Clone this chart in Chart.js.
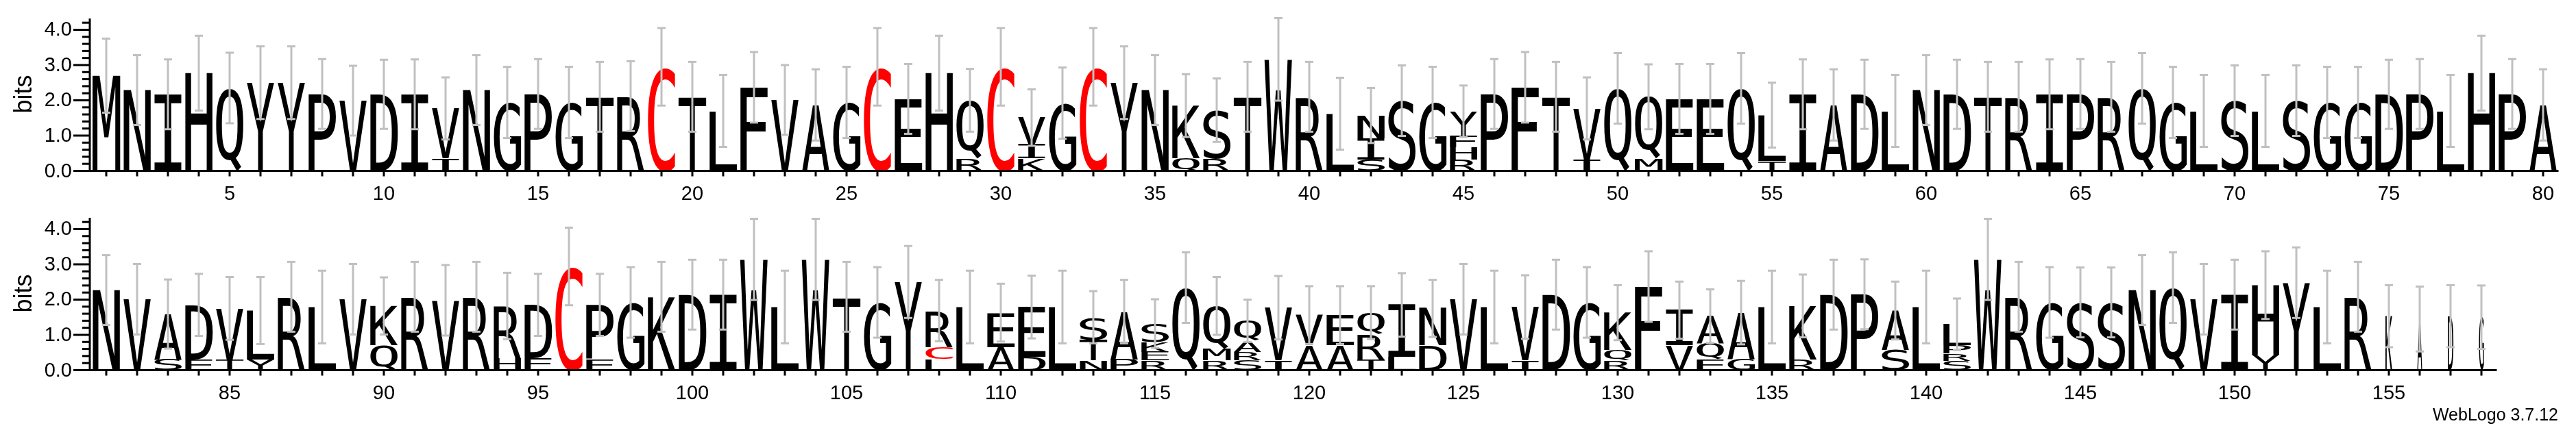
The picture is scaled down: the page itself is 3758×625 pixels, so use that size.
<!DOCTYPE html>
<html>
<head>
<meta charset="utf-8">
<script src="https://cdn.jsdelivr.net/npm/chart.js@4.4.1/dist/chart.umd.min.js"></script>
<style>
  html, body { margin: 0; padding: 0; background: #fff; }
  body { width: 3758px; height: 625px; position: relative; overflow: hidden; }
  canvas { position: absolute; left: 0; }
</style>
</head>
<body>
<canvas id="row1" width="3758" height="300" style="top:0px"></canvas>
<canvas id="row2" width="3758" height="334" style="top:291px"></canvas>
<script>
// residues in each stack, bottom -> top
const residues = [
  'M','N','I','H','Q','Y','Y','P','V','D','I','IV','N','G','P','G','T','R','C','T',
  'L','F','V','A','G','C','E','H','RQ','C','KIV','G','C','Y','N','QK','RS','T','W','R',
  'L','SIN','S','G','RHFY','P','F','T','IV','Q','MQ','E','E','Q','TL','I','A','D','L','N',
  'D','T','R','I','P','R','Q','G','L','S','L','S','G','G','D','P','L','H','P','A',
  'N','V','SA','ED','TV','YL','R','L','V','QK','R','V','R','HR','ED','C','EP','G','K','D',
  'I','W','L','W','T','G','Y','LCR','L','AE','DE','L','NTS','PA','REKS','Q','RMQ','SRAQ','IV','AV',
  'AE','TRQ','LI','DN','V','L','IV','D','G','RQK','F','VI','EQA','GA','L','RK','D','P','SA','L',
  'SRPL','W','R','G','S','S','N','Q','V','I','YH','Y','L','R','K','A','D','G'
];
// letter heights in bits, bottom -> top
const heights = [
  [2.70],[2.29],[2.17],[2.77],[2.35],[2.50],[2.50],[2.18],[1.99],[2.17],
  [2.17],[0.35,1.42],[2.29],[1.94],[2.18],[1.94],[2.10],[2.12],[2.95],[2.10],
  [1.70],[2.37],[2.01],[1.87],[1.94],[2.95],[2.04],[2.77],[0.35,1.65],[2.95],
  [0.35,0.39,0.77],[1.92],[2.95],[2.50],[2.29],[0.35,1.50],[0.35,1.37],[2.10],[3.16],[2.10],
  [1.62],[0.32,0.61,0.64],[1.99],[1.94],[0.32,0.35,0.32,0.70],[2.18],[2.37],[2.10],[0.32,1.45],[2.34],
  [0.35,1.75],[2.04],[2.04],[2.34],[0.29,1.29],[2.17],[1.87],[2.17],[1.70],[2.29],
  [2.17],[2.10],[2.10],[2.17],[2.18],[2.10],[2.34],[1.94],[1.70],[1.99],
  [1.70],[1.99],[1.94],[1.94],[2.17],[2.18],[1.70],[2.77],[2.18],[1.87],
  [2.27],[2.01],[0.31,1.28],[0.31,1.54],[0.31,1.44],[0.31,1.38],[2.08],[1.79],[2.01],[0.70,1.12],
  [2.08],[1.98],[2.08],[0.34,1.48],[0.34,1.51],[2.94],[0.31,1.54],[1.92],[2.08],[2.14],
  [2.14],[3.14],[1.79],[3.14],[2.08],[1.92],[2.50],[0.31,0.35,1.03],[1.79],[0.66,0.97],
  [0.37,1.42],[1.79],[0.28,0.58,0.64],[0.31,1.35],[0.28,0.24,0.28,0.52],[2.34],[0.28,0.32,1.22],[0.28,0.24,0.31,0.57],[0.28,1.49],[0.70,0.86],
  [0.70,0.86],[0.31,0.71,0.61],[0.37,1.48],[0.70,1.05],[2.01],[1.79],[0.28,1.51],[2.14],[1.92],[0.28,0.29,1.06],
  [2.37],[0.70,1.00],[0.31,0.45,0.77],[0.31,1.32],[1.79],[0.31,1.51],[2.14],[2.15],[0.57,1.12],[1.79],
  [0.26,0.21,0.23,0.60],[3.14],[2.08],[1.92],[1.92],[1.92],[2.27],[2.34],[2.01],[2.14],
  [0.44,1.97],[2.48],[1.79],[2.08],[1.53],[1.45],[1.53],[1.50]
];
// half length of the error bar on top of each stack (bits)
const errs = [
  1.05,0.99,0.99,1.06,1.00,1.03,1.03,0.99,0.99,0.98,
  0.99,0.88,0.99,1.01,0.99,1.01,0.99,0.99,1.10,0.99,
  1.02,1.00,0.99,1.01,1.01,1.10,0.99,1.06,0.89,1.10,
  0.80,1.01,1.10,1.03,0.99,0.89,0.90,0.99,1.17,0.99,
  1.02,0.78,1.00,1.01,0.73,0.99,1.00,0.99,0.88,1.00,
  0.92,0.99,0.99,1.00,0.92,0.99,1.01,0.98,1.02,0.99,
  0.98,0.99,0.99,0.99,0.99,0.99,1.00,1.01,1.02,1.00,
  1.02,1.00,1.01,1.01,0.98,0.99,1.02,1.06,0.99,1.01,
  0.99,1.00,0.98,0.88,0.89,0.95,0.99,1.03,1.00,0.81,
  0.99,1.00,0.99,0.94,0.88,1.10,0.88,1.00,0.99,0.99,
  0.99,1.15,1.03,1.15,0.99,1.00,1.02,0.87,1.03,0.82,
  0.89,1.03,0.74,0.90,0.69,1.00,0.82,0.60,0.90,0.82,
  0.82,0.75,0.90,0.81,1.00,1.03,0.90,0.99,1.00,0.78,
  1.00,0.81,0.76,0.90,1.03,0.89,0.99,0.99,0.82,1.03,
  0.73,1.15,0.99,1.00,0.99,0.99,0.99,1.00,1.00,0.99,
  0.96,1.00,1.03,0.99,0.88,0.92,0.88,0.90
];
// columns that are mostly gaps are drawn narrower
const partialCols = [155, 156, 157, 158];
const partialWidth = [0.25, 0.18, 0.20, 0.18];

const yMax = 4.32;
const yMajor = [0, 1, 2, 3, 4];
const yLabels = ['0.0', '1.0', '2.0', '3.0', '4.0'];
const xLabelled = [5,10,15,20,25,30,35,40,45,50,55,60,65,70,75,80,
                   85,90,95,100,105,110,115,120,125,130,135,140,145,150,155];

const LETTER_FONT = '100px "DejaVu Sans Mono"';
const AXIS_FONT = '29px "Liberation Sans", Arial, sans-serif';
const GREY = '#c0c0c0';

function letterColour(ch) {
  return ch === 'C' ? '#ff0000' : '#000000';
}

// glyph bounding boxes, so letters can be stretched to fill their box
const glyphs = {};
function glyphBox(ctx, ch) {
  if (!glyphs[ch]) {
    ctx.save();
    ctx.font = LETTER_FONT;
    const m = ctx.measureText(ch);
    ctx.restore();
    glyphs[ch] = { l: m.actualBoundingBoxLeft, r: m.actualBoundingBoxRight,
                   a: m.actualBoundingBoxAscent, d: m.actualBoundingBoxDescent };
  }
  return glyphs[ch];
}

function drawLetter(ctx, ch, x0, y0, w, h) {
  const g = glyphBox(ctx, ch);
  ctx.save();
  ctx.translate(x0, y0);
  ctx.scale(w / (g.l + g.r), h / (g.a + g.d));
  ctx.font = LETTER_FONT;
  ctx.textAlign = 'left';
  ctx.textBaseline = 'alphabetic';
  ctx.fillStyle = letterColour(ch);
  ctx.fillText(ch, g.l, g.a);
  ctx.restore();
}

function line(ctx, x1, y1, x2, y2) {
  ctx.beginPath();
  ctx.moveTo(x1, y1);
  ctx.lineTo(x2, y2);
  ctx.stroke();
}

function logoPlugin(first, footer) {
  return {
    id: 'logo',
    afterDatasetsDraw(chart) {
      const ctx = chart.ctx;
      const xs = chart.scales.x, ys = chart.scales.y;
      const area = chart.chartArea;

      // letters
      chart.data.datasets.forEach((ds, k) => {
        chart.getDatasetMeta(k).data.forEach((bar, i) => {
          if (!ds.data[i]) return;
          const pos = first + i;
          const ch = residues[pos - 1][k];
          const p = partialCols.indexOf(pos);
          const w = bar.width * (p >= 0 ? partialWidth[p] : 1);
          drawLetter(ctx, ch, bar.x - w / 2, bar.y, w, bar.base - bar.y);
        });
      });

      // error bars
      ctx.save();
      ctx.strokeStyle = GREY;
      ctx.lineWidth = 3;
      chart.data.labels.forEach((lab, i) => {
        const pos = first + i;
        const total = heights[pos - 1].reduce((a, b) => a + b, 0);
        const cx = xs.getPixelForValue(i);
        const top = ys.getPixelForValue(total + errs[pos - 1]);
        const bot = ys.getPixelForValue(total - errs[pos - 1]);
        line(ctx, cx, top, cx, bot);
        line(ctx, cx - 6, top, cx + 6, top);
        line(ctx, cx - 6, bot, cx + 6, bot);
      });
      ctx.restore();

      // axes
      ctx.save();
      ctx.strokeStyle = '#000';
      ctx.fillStyle = '#000';
      ctx.lineWidth = 3;
      const ax = area.left - 1.5;
      const base = ys.getPixelForValue(0);
      line(ctx, ax, base + 1.5, ax, ys.getPixelForValue(yMax));
      for (let v = 0; v <= 4.2001; v += 0.2) {
        const yy = ys.getPixelForValue(v);
        const major = Math.abs(v - Math.round(v)) < 1e-6;
        line(ctx, major ? ax - 24 : ax - 11, yy, ax, yy);
      }
      line(ctx, ax - 24, base, area.right, base);
      ctx.font = AXIS_FONT;
      ctx.textAlign = 'right';
      ctx.textBaseline = 'middle';
      yMajor.forEach((v, j) => ctx.fillText(yLabels[j], ax - 26, ys.getPixelForValue(v) + 1));

      ctx.textAlign = 'center';
      ctx.textBaseline = 'middle';
      chart.data.labels.forEach((lab, i) => {
        const cx = xs.getPixelForValue(i);
        line(ctx, cx, base, cx, base + 8);
        if (xLabelled.includes(first + i)) ctx.fillText(lab, cx, base + 34);
      });

      ctx.save();
      ctx.translate(36, base - 112);
      ctx.rotate(-Math.PI / 2);
      ctx.font = '36px "Liberation Sans", Arial, sans-serif';
      ctx.fillText('bits', 0, 0);
      ctx.restore();

      if (footer) {
        ctx.font = '25px "Liberation Sans", Arial, sans-serif';
        ctx.textAlign = 'right';
        ctx.fillText(footer, 3732, base + 67);
      }
      ctx.restore();
    }
  };
}

function makeRow(id, first, last, rightPad, footer) {
  const canvas = document.getElementById(id);
  const positions = [];
  for (let p = first; p <= last; p++) positions.push(p);
  const layers = [0, 1, 2, 3].map(k => ({
    data: positions.map(p => heights[p - 1][k] || 0),
    backgroundColor: 'rgba(0,0,0,0)',
    borderWidth: 0,
    barPercentage: 0.9,
    categoryPercentage: 1.0
  }));
  return new Chart(canvas, {
    type: 'bar',
    data: { labels: positions.map(String), datasets: layers },
    options: {
      responsive: false,
      animation: false,
      devicePixelRatio: 1,
      layout: { padding: { left: 132.5, right: rightPad, top: 27, bottom: canvas.height - 249.5 } },
      scales: {
        x: { display: false, stacked: true },
        y: { display: false, stacked: true, min: 0, max: yMax }
      },
      plugins: { legend: { display: false }, tooltip: { enabled: false } }
    },
    plugins: [logoPlugin(first, footer)]
  });
}

makeRow('row1', 1, 80, 3758 - 3732.5, null);
makeRow('row2', 81, 158, 3758 - 3642.5, 'WebLogo 3.7.12');
</script>
</body>
</html>
